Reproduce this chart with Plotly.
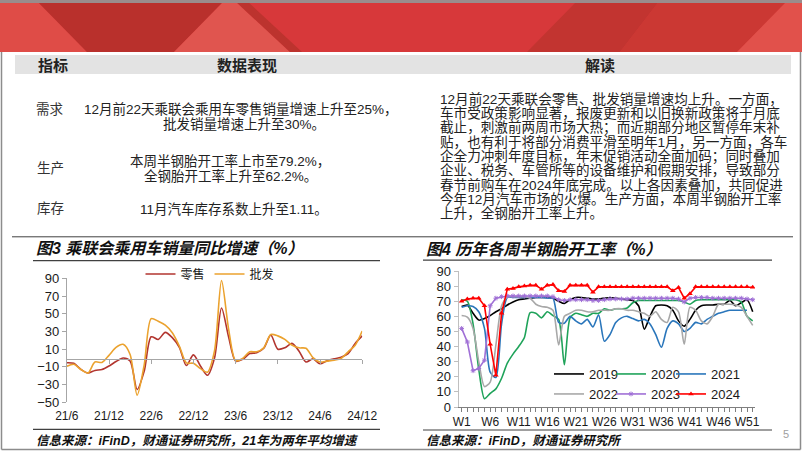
import plotly.graph_objects as go

W, H = 802, 451

# ---------------- data: chart 3 (monthly yoy, %) ----------------
months = ["21/6", "21/7", "21/8", "21/9", "21/10", "21/11", "21/12",
          "22/1", "22/2", "22/3", "22/4", "22/5", "22/6", "22/7", "22/8", "22/9", "22/10", "22/11", "22/12",
          "23/1", "23/2", "23/3", "23/4", "23/5", "23/6", "23/7", "23/8", "23/9", "23/10", "23/11", "23/12",
          "24/1", "24/2", "24/3", "24/4", "24/5", "24/6", "24/7", "24/8", "24/9", "24/10", "24/11", "24/12"]
month_ticks = ["21/6", "21/12", "22/6", "22/12", "23/6", "23/12", "24/6", "24/12"]
retail = [-5.3, -6, -12.8, -17, -14, -13, -9, -4, 0, -3.4, -35.5, -15, 24, 21, 29, 23, 12, -8.5, 3.5, -9,
          -19.5, 0, 56.5, 24, -3.5, -1.5, 5, 6, 11, 26, 10, 11.5, 16.5, 8, -4.5, -1, -6.5, -3, -1, 1, 5, 16.5, 25]
wholesale = [-9.4, -7, -13, -17, -4.5, -5, 3, 12, 15.5, 4, -42, -8, 44.5, 41.5, 37, 28.5, 13.5, -5.5, -6, -12,
             -16, 8, 87.5, 33, -3, -0.5, 7, 7, 11.5, 26.5, 25, 21, 14.5, 11.5, 11, 0.5, -4.5, -3.5, -2.5, -0.5, 7, 14.5, 30.5]

# ---------------- data: chart 4 (weekly semi-steel tyre utilisation, %) ----------------
weeks = list(range(1, 53))
week_labels = ["W1", "W6", "W11", "W16", "W21", "W26", "W31", "W36", "W41", "W46", "W51"]
y2019 = [66.5, 67.5, 62, 57.5, 58.5, 60.5, 63, 65, 67.5, 69.5,
         71, 71.5, 72, 72.5, 72.5, 72.5, 72, 70, 68.5, 71,
         72.5, 72.5, 72, 71.5, 71.5, 72, 72.5, 72, 71.5, 71,
         70.5, 67, 51.5, 60, 67, 67.5, 67, 64, 57, 53.5,
         58, 64, 67, 67.5, 67.5, 68, 68, 70.5, 67, 69, 71, 63]
y2020 = [71, 70, 55, 25, 5.5, 9, 12, 19, 29, 35,
         40, 46, 62.5, 62, 59, 63, 60.5, 58, 28, 59,
         62, 61, 60, 62, 62, 65, 64, 65, 65, 65.5,
         69, 70.5, 70.5, 70.5, 70.5, 70.5, 70.5, 70.5, 70.5, 69.5,
         68, 70.5, 71, 71, 71, 71, 71, 71, 71, 69.5, 60, 57]
y2021 = [66, 67, 66.5, 63, 52, 23, 19.5, 55, 72.5, 72.5,
         72.5, 72.5, 72.5, 72.5, 72.5, 72, 72, 56, 55.5, 60,
         57, 55, 58, 53, 61, 43.5, 48, 56, 59, 60,
         58.5, 57, 58, 55, 48, 39.5, 52, 57, 55, 50,
         52, 56, 55, 58, 60, 62, 63, 64, 64, 64, 64, None]
y2022 = [60.5, 59.5, 52, 30, 13.5, 16.5, 41, 67, 73, 73,
         73, 73, 72, 68, 66.5, 66, 64, 41, 60, 62,
         64, 64, 63, 63, 64, 64, 64, 65, 65, 64,
         64, 63, 62, 60, 63, 58, 56, 66, 63, 41.5,
         66, 64, 57, 55, 60, 68, 68, 68, 67.5, 66, 60, 54]
y2023 = [52, 43, 24, 25.5, 31, 67, 72, 73, 73.5, 73.5,
         73.5, 73.5, 73.5, 73.5, 73.5, 73.5, 73, 71, 70.5, 71,
         71, 71, 71, 70.5, 70.5, 71, 71.5, 71.5, 71.5, 71.5,
         72, 72, 72, 72, 72, 72, 72, 72, 71.5, 69.5,
         72, 72.5, 72.5, 72.5, 72, 72, 72, 72, 72, 72, 71.5, 71]
y2024 = [70, 71.5, 72, 72, 67, 41.5, 21, 62, 78, 78.5,
         79.5, 80, 80.5, 80.5, 78, 80.5, 81, 77, 76.5, 80.5,
         80.5, 80.5, 80.5, 76, 79.5, 79.5, 79.5, 79.5, 79.5, 79.5,
         79.5, 79.5, 79.5, 79.5, 79.5, 79.5, 79.5, 77, 79, 72,
         75, 79.5, 79.5, 79.5, 79.5, 79.5, 79.5, 79.5, 79.5, 79.5, 79.5, 79.2]

# ---------------- text ----------------
table_headers = ["指标", "数据表现", "解读"]
row_names = ["需求", "生产", "库存"]
row_lines = [["12月前22天乘联会乘用车零售销量增速上升至25%，", "批发销量增速上升至30%。"],
             ["本周半钢胎开工率上市至79.2%，", "全钢胎开工率上升至62.2%。"],
             ["11月汽车库存系数上升至1.11。"]]
commentary = ["12月前22天乘联会零售、批发销量增速均上升。一方面，",
              "车市受政策影响显著，报废更新和以旧换新政策将于月底",
              "截止，刺激前两周市场大热；而近期部分地区暂停年末补",
              "贴，也有利于将部分消费平滑至明年1月，另一方面，各车",
              "企全力冲刺年度目标，年末促销活动全面加码；同时叠加",
              "企业、税务、车管所等的设备维护和假期安排，导致部分",
              "春节前购车在2024年底完成。以上各因素叠加，共同促进",
              "今年12月汽车市场的火爆。生产方面，本周半钢胎开工率",
              "上升，全钢胎开工率上升。"]

FONT = "Liberation Sans, Arial, Noto Sans CJK SC"
CJK = "Liberation Sans, Noto Sans CJK SC"


def X(px):
    return px / W


def Y(py):
    return 1 - py / H


fig = go.Figure()

# chart 3 traces
idx = list(range(len(months)))
fig.add_trace(go.Scatter(x=idx, y=retail, name="零售", mode="lines",
                         line=dict(color="#B2352F", width=1.6, shape="spline", smoothing=0.8),
                         xaxis="x", yaxis="y", legend="legend", customdata=months))
fig.add_trace(go.Scatter(x=idx, y=wholesale, name="批发", mode="lines",
                         line=dict(color="#EBA22E", width=1.6, shape="spline", smoothing=0.8),
                         xaxis="x", yaxis="y", legend="legend", customdata=months))

# chart 4 traces, one legend per entry so the 3x2 grid can be placed exactly
series4 = [("2019", y2019, "#000000", None),
           ("2020", y2020, "#1FA35A", None),
           ("2021", y2021, "#2A76BB", None),
           ("2022", y2022, "#A8A8A8", None),
           ("2023", y2023, "#A070D6", dict(symbol="asterisk-open", size=4, color="#A070D6")),
           ("2024", y2024, "#FF0000", dict(symbol="triangle-up", size=5, color="#FF0000"))]
leg_text_x = [593, 655, 715]
leg_row_y = [374, 394]
legend_layouts = {}
for k, (name, ys, col, mk) in enumerate(series4):
    lg = "legend%d" % (k + 2)
    if mk is None:
        fig.add_trace(go.Scatter(x=weeks, y=ys, name=name, mode="lines",
                                 line=dict(color=col, width=1.6, shape="spline", smoothing=0.7),
                                 xaxis="x2", yaxis="y2", legend=lg))
    else:
        fig.add_trace(go.Scatter(x=weeks, y=ys, name=name, mode="lines+markers",
                                 line=dict(color=col, width=1.6), marker=mk,
                                 xaxis="x2", yaxis="y2", legend=lg))
    legend_layouts[lg] = dict(x=X(leg_text_x[k % 3] - 44), y=Y(leg_row_y[k // 3]), xanchor="left",
                              yanchor="middle", bgcolor="rgba(0,0,0,0)", itemwidth=30,
                              font=dict(family=FONT, size=13, color="#1a1a1a"))

zero_py = 358.7
tickfont = dict(family=FONT, size=12, color="#1a1a1a")

fig.update_layout(
    width=W, height=H, margin=dict(l=0, r=0, t=0, b=0, autoexpand=False),
    paper_bgcolor="white", plot_bgcolor="rgba(0,0,0,0)",
    showlegend=True,
    xaxis=dict(domain=[X(66.8), X(362.2)], range=[0, 42], anchor="free", position=Y(zero_py),
               showline=True, linecolor="#A6A6A6", linewidth=1, ticks="outside", ticklen=4,
               tickcolor="#A6A6A6", tickvals=[months.index(m) for m in month_ticks], ticktext=month_ticks,
               ticklabelstandoff=42, tickangle=0, tickfont=tickfont, showgrid=False, zeroline=False),
    yaxis=dict(domain=[Y(402.3), Y(278.3)], range=[-50, 90], tickvals=list(range(-50, 91, 20)),
               showline=True, linecolor="#A6A6A6", linewidth=1, ticks="outside", ticklen=4,
               tickcolor="#A6A6A6", tickfont=dict(family=FONT, size=13, color="#1a1a1a"),
               showgrid=False, zeroline=False, anchor="x"),
    xaxis2=dict(domain=[X(458.5), X(755)], range=[0.45, 52.4], anchor="y2",
                showline=True, linecolor="#7F7F7F", linewidth=1, ticks="outside", ticklen=4,
                tickcolor="#7F7F7F", tickvals=weeks, tickangle=0,
                ticktext=[("W%d" % w if ("W%d" % w) in week_labels else "") for w in weeks],
                tickfont=tickfont, showgrid=False, zeroline=False),
    yaxis2=dict(domain=[Y(407), Y(271)], range=[0, 90], dtick=10,
                showline=True, linecolor="#BFBFBF", linewidth=1, ticks="outside", ticklen=4,
                tickcolor="#BFBFBF", tickfont=dict(family=FONT, size=13, color="#1a1a1a"),
                showgrid=False, zeroline=False, anchor="x2"),
    legend=dict(orientation="h", x=X(210), y=Y(274), xanchor="center", yanchor="middle",
                bgcolor="rgba(0,0,0,0)", font=dict(family="Noto Sans CJK SC", size=12, color="#1a1a1a"),
                itemwidth=30),
    **legend_layouts,
)

shapes = []


def poly(pts, color):
    path = "M " + " L ".join("%f,%f" % (X(a), Y(b)) for a, b in pts) + " Z"
    shapes.append(dict(type="path", xref="paper", yref="paper", path=path,
                       fillcolor=color, line=dict(width=0), layer="below"))


def hline(x0, x1, y, color, w=1):
    shapes.append(dict(type="line", xref="paper", yref="paper", x0=X(x0), x1=X(x1), y0=Y(y), y1=Y(y),
                       line=dict(color=color, width=w)))


# red banner
BH = 52
poly([(0, 0), (802, 0), (802, BH), (0, BH)], "#D7383A")
poly([(0, 0), (36, 0), (87, BH), (0, BH)], "#DF4C47")
poly([(36, 0), (225, 0), (174, BH), (87, BH)], "#B9302C")
poly([(174, BH), (225, 0), (234, 0), (290, BH)], "#E0554F")
poly([(234, 0), (246, 0), (302, BH), (290, BH)], "#BC332E")
poly([(578, 0), (660, 0), (620, BH), (527, BH)], "#C23430")
poly([(660, 0), (788, 0), (737, BH), (620, BH)], "#CB3833")
poly([(788, 0), (802, 0), (802, BH), (737, BH)], "#E1514B")
poly([(0, 0), (802, 0), (802, 3), (0, 3)], "#9A8C8C")

# table header bar
poly([(15, 55), (791, 55), (791, 74), (15, 74)], "#E3E3E3")

# slide frame
shapes.append(dict(type="line", xref="paper", yref="paper", x0=X(1.5), x1=X(1.5), y0=Y(BH), y1=Y(449.5),
                   line=dict(color="#8C8C8C", width=1.5)))
shapes.append(dict(type="line", xref="paper", yref="paper", x0=X(800.5), x1=X(800.5), y0=Y(BH), y1=Y(449.5),
                   line=dict(color="#8C8C8C", width=1.5)))
hline(1.5, 800.5, 449.5, "#8C8C8C", 1.5)

# separator and title/footer rules
hline(12, 793, 236.8, "#404040", 1)
hline(33, 380, 260.7, "#404040", 1.2)
hline(423, 772, 260.2, "#404040", 1.2)
hline(33, 380, 429.3, "#404040", 1.2)
hline(423, 772, 430, "#404040", 1.2)

fig.update_layout(shapes=shapes)

ann = []


def text(s, x, y, size=14, anchor="center", bold=False, italic=False, color="#222222", family=CJK):
    ann.append(dict(text=s, x=X(x), y=Y(y), xref="paper", yref="paper", xanchor=anchor, yanchor="middle",
                    showarrow=False, font=dict(family=family, size=size, color=color,
                                               weight="bold" if bold else "normal",
                                               style="italic" if italic else "normal")))


# table
text(table_headers[0], 53, 65, 15, bold=True)
text(table_headers[1], 247, 65, 15, bold=True)
text(table_headers[2], 600, 65, 15, bold=True)
row_y = [109, 168, 209]
line_y = [[109, 125], [161, 176], [209]]
line_x = [[241, 244], [230, 230], [234]]
for r in range(3):
    text(row_names[r], 50, row_y[r], 13.5, color="#333333")
    for k, s in enumerate(row_lines[r]):
        text(s, line_x[r][k], line_y[r][k], 13.5)
for k, s in enumerate(commentary):
    text(s, 438, 99 + k * 14.25, 13.6, anchor="left")

# chart titles & sources
text("图3 乘联会乘用车销量同比增速（%）", 34, 248, 16, anchor="left", bold=True, italic=True, color="#111111")
text("图4 历年各周半钢胎开工率（%）", 424, 249.5, 16, anchor="left", bold=True, italic=True, color="#111111")
text("信息来源：iFinD，财通证券研究所，21年为两年平均增速", 34, 441, 12.5, anchor="left", bold=True, italic=True,
     color="#111111")
text("信息来源：iFinD，财通证券研究所", 424, 441, 12.5, anchor="left", bold=True, italic=True, color="#111111")
text("5", 786, 434, 11, color="#A0A0A0", family=FONT)

fig.update_layout(annotations=ann)

fig.write_html("out.html")
